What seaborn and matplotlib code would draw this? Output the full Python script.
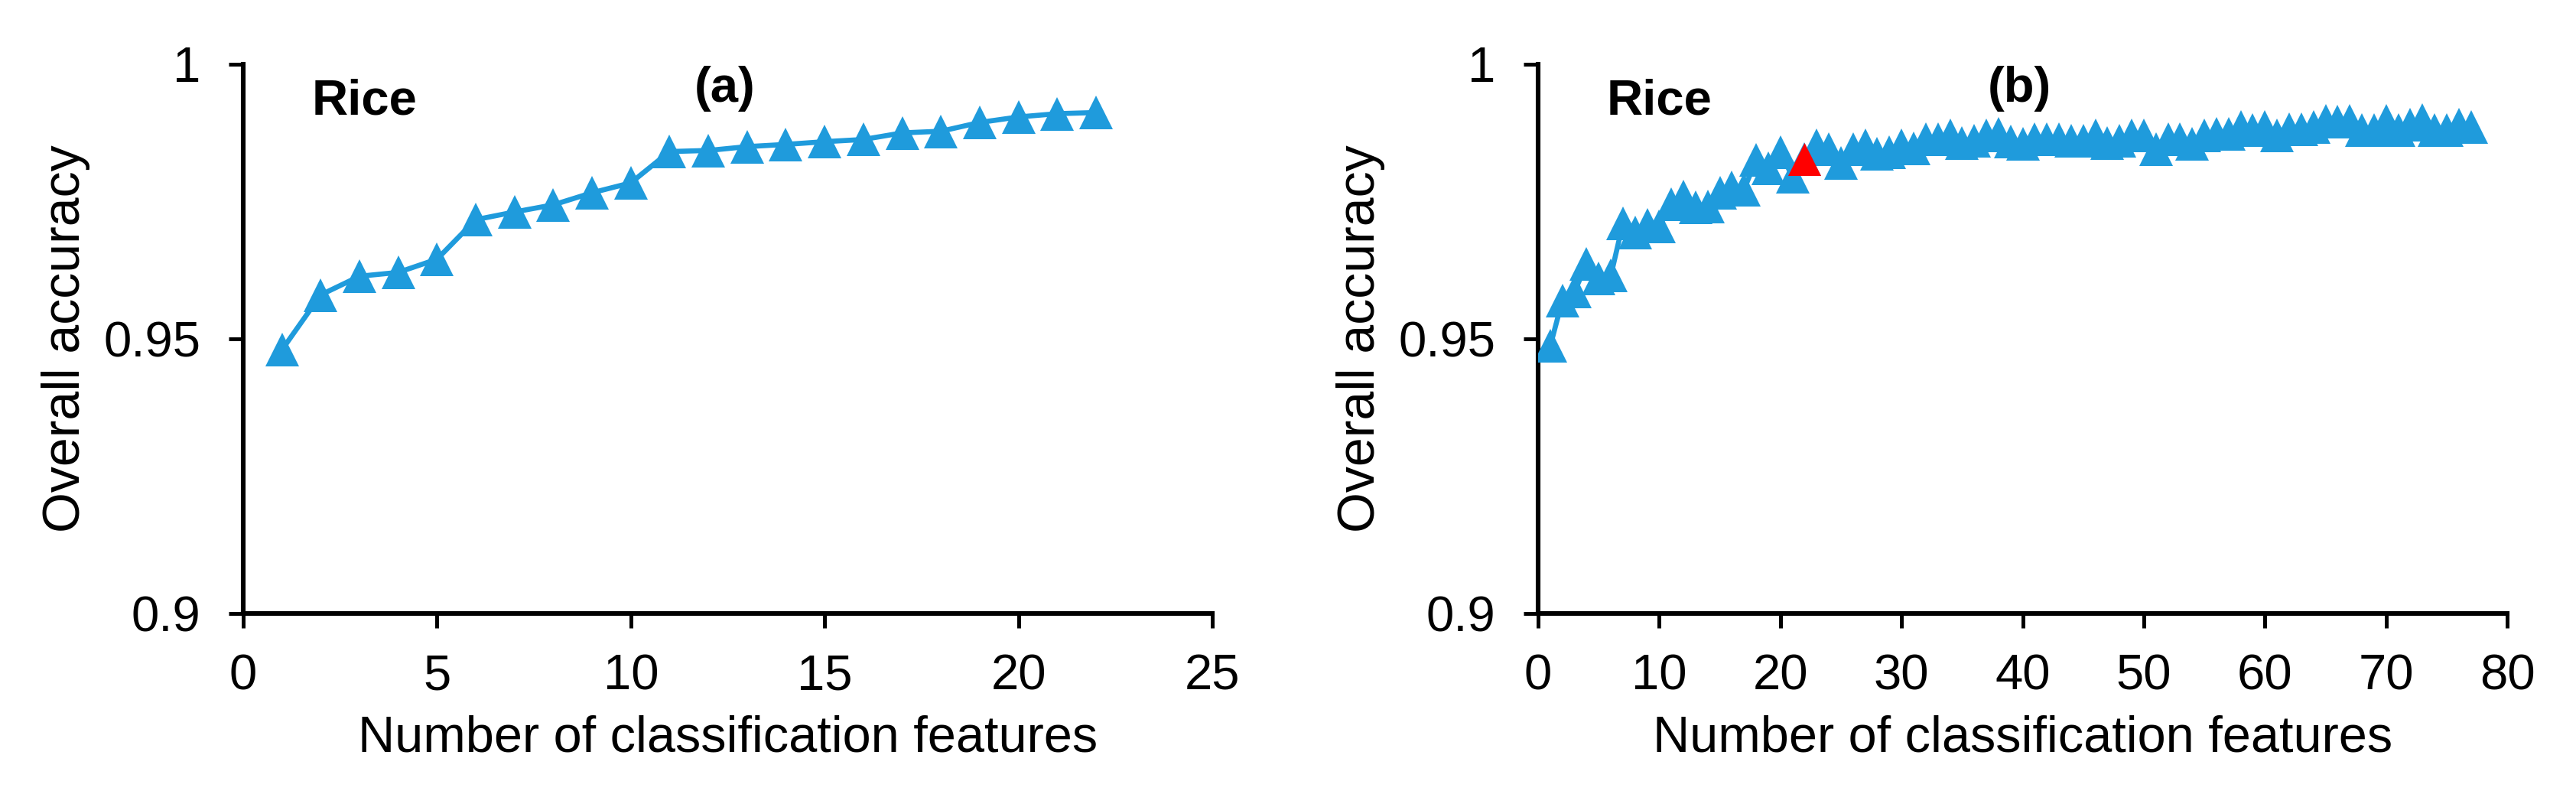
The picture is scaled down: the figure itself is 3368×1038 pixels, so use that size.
import numpy as np
import pandas as pd
import matplotlib
matplotlib.use("Agg")
import matplotlib.pyplot as plt
import seaborn as sns

# ---------------- data ----------------
feat_a = list(range(1, 23))
acc_a = [0.9480, 0.9580, 0.9614, 0.9621, 0.9645, 0.9717, 0.9731, 0.9744,
         0.9766, 0.9784, 0.9841, 0.9843, 0.9850, 0.9854, 0.9859, 0.9863,
         0.9875, 0.9878, 0.9894, 0.9904, 0.9910, 0.9912]

feat_b = list(range(1, 78))
acc_b = [0.9487, 0.9570, 0.9586, 0.9636, 0.9610, 0.9615, 0.9710, 0.9694,
         0.9707, 0.9705, 0.9745, 0.9759, 0.9740, 0.9741, 0.9766, 0.9776,
         0.9772, 0.9826, 0.9810, 0.9840, 0.9795, 0.9827, 0.9852, 0.9846,
         0.9820, 0.9846, 0.9852, 0.9837, 0.9840, 0.9852, 0.9847, 0.9864,
         0.9864, 0.9870, 0.9857, 0.9860, 0.9870, 0.9873, 0.9859, 0.9855,
         0.9864, 0.9864, 0.9864, 0.9860, 0.9860, 0.9870, 0.9857, 0.9860,
         0.9870, 0.9870, 0.9846, 0.9864, 0.9864, 0.9855, 0.9870, 0.9873,
         0.9873, 0.9886, 0.9880, 0.9886, 0.9870, 0.9881, 0.9881, 0.9886,
         0.9897, 0.9896, 0.9897, 0.9880, 0.9880, 0.9897, 0.9880, 0.9890,
         0.9898, 0.9880, 0.9880, 0.9890, 0.9886]
best_b = 22  # highlighted (red) feature count

panel_tags = ["(a)", "(b)"]
crop_label = "Rice"
xlabel = "Number of classification features"
ylabel = "Overall accuracy"
xticks_a = [0, 5, 10, 15, 20, 25]
xticks_b = [0, 10, 20, 30, 40, 50, 60, 70, 80]
yticks = [0.9, 0.95, 1.0]
ytick_labels = ["0.9", "0.95", "1"]

# ---------------- style ----------------
sns.set_theme(style="ticks")
plt.rcParams["font.family"] = ["Liberation Sans", "DejaVu Sans"]

BLUE = "#1f9bdc"
RED = "#ff0000"
MS = 15.5

fig = plt.figure(figsize=(16.84, 5.19), dpi=200)
ax_a = fig.add_axes([0.0944, 0.2274, 0.3762, 0.6917])
ax_b = fig.add_axes([0.5971, 0.2274, 0.3762, 0.6917])

df_a = pd.DataFrame({"n": feat_a, "acc": acc_a})
df_b = pd.DataFrame({"n": feat_b, "acc": acc_b})

for ax, df, xt, tag in [(ax_a, df_a, xticks_a, panel_tags[0]),
                        (ax_b, df_b, xticks_b, panel_tags[1])]:
    sns.lineplot(data=df, x="n", y="acc", ax=ax, color=BLUE, linewidth=2.4,
                 marker="^", markersize=MS, markeredgewidth=0,
                 markerfacecolor=BLUE, zorder=3)
    ax.set_xlim(xt[0], xt[-1])
    ax.set_ylim(0.9, 1.0)
    ax.set_xticks(xt)
    ax.set_xticklabels([str(v) for v in xt])
    ax.set_yticks(yticks)
    ax.set_yticklabels(ytick_labels)
    ax.tick_params(axis="both", direction="out", length=7, width=1.8,
                   labelsize=23.5, color="black", labelcolor="black")
    ax.tick_params(axis="x", pad=12)
    ax.tick_params(axis="y", pad=13)
    sns.despine(ax=ax)
    for s in ["left", "bottom"]:
        ax.spines[s].set_linewidth(2.2)
        ax.spines[s].set_color("black")
    ax.set_xlabel(xlabel, fontsize=24, color="black")
    ax.set_ylabel(ylabel, fontsize=24.5, color="black")
    ax.xaxis.set_label_coords(0.5, -0.185)
    ax.yaxis.set_label_coords(-0.158, 0.5)
    ax.text(0.125, 0.932, crop_label, transform=ax.transAxes, fontsize=23.5,
            fontweight="bold", ha="center", va="center", color="black")
    ax.text(0.497, 0.955, tag, transform=ax.transAxes, fontsize=23.5,
            fontweight="bold", ha="center", va="center", color="black")
    ax.set_facecolor("white")

# highlighted point in panel (b)
best_df = df_b[df_b["n"] == best_b]
sns.scatterplot(data=best_df, x="n", y="acc", ax=ax_b, color=RED, marker="^",
                s=MS ** 2, linewidth=0, zorder=5, legend=False)
ax_b.set_xlabel(xlabel, fontsize=24, color="black")
ax_b.set_ylabel(ylabel, fontsize=24.5, color="black")

fig.patch.set_facecolor("white")
fig.savefig("out.png", dpi=200, facecolor="white")
